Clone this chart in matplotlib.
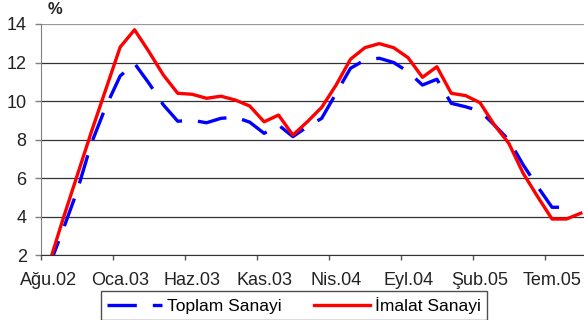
import numpy as np
import matplotlib
matplotlib.use("Agg")
import matplotlib.pyplot as plt

plt.rcParams['font.family'] = ['Liberation Sans', 'DejaVu Sans']

# Turkish month abbreviations, series starts in Aug 2002
month_names = ["Oca", "Şub", "Mar", "Nis", "May", "Haz",
               "Tem", "Ağu", "Eyl", "Eki", "Kas", "Ara"]
start_month, start_year = 8, 2002

# monthly % values
toplam = [1.3, 3.25, 5.3, 7.8, 9.7, 11.3, 11.95, 10.92, 9.8, 8.95, 9.0, 8.87,
          9.1, 9.16, 8.9, 8.32, 8.75, 8.15, 8.66, 9.1, 10.4, 11.7, 12.13, 12.22,
          12.0, 11.52, 10.83, 11.13, 9.88, 9.7, 9.48, 8.75, 7.97, 6.68, 5.55,
          4.48, 4.48]
imalat = [1.4, 3.8, 6.1, 8.4, 10.6, 12.8, 13.7, 12.56, 11.35, 10.4, 10.35,
          10.14, 10.25, 10.05, 9.74, 8.92, 9.27, 8.23, 8.92, 9.67, 10.83, 12.17,
          12.77, 12.98, 12.77, 12.25, 11.23, 11.78, 10.4, 10.28, 9.91, 8.75, 7.8,
          6.24, 5.03, 3.87, 3.87, 4.17]

labels = []
for k in range(len(imalat)):
    m = (start_month - 1 + k) % 12
    y = start_year + (start_month - 1 + k) // 12
    labels.append(f"{month_names[m]}.{y % 100:02d}")

fig = plt.figure(figsize=(5.84, 3.2), dpi=100)
ax = fig.add_axes([41 / 584, 0.2031, 547 / 584, 0.7219])

ax.plot(np.arange(len(toplam)), toplam, color="#0000ff", lw=2.4,
        dashes=(8.8, 4.8), dash_capstyle="butt", label="Toplam Sanayi")
ax.plot(np.arange(len(imalat)), imalat, color="#ff0000", lw=2.4,
        solid_joinstyle="round", label="İmalat Sanayi")

ax.set_xlim(-0.5, len(imalat) - 0.5)
ax.set_ylim(2, 14)
ax.set_yticks(np.arange(2, 15, 2))

# tick marks at category boundaries, labels on the categories
ax.set_xticks(np.arange(-0.5, len(imalat), 5))
ax.set_xticklabels([])
ax.set_xticks(np.arange(0, len(imalat), 5), minor=True)
ax.set_xticklabels(labels[::5], minor=True)
ax.tick_params(axis="x", which="major", direction="out", length=3.6,
               width=1, color="#555555")
ax.tick_params(axis="x", which="minor", length=0, pad=12.5, labelsize=13,
               labelcolor="#222222")
ax.tick_params(axis="y", direction="out", length=4.3, width=1,
               color="#808080", pad=6, labelsize=13, labelcolor="#222222")

ax.yaxis.grid(True, color="#333333", lw=0.9)
ax.get_ygridlines()[-1].set_color("#999999")
ax.set_axisbelow(True)
for s in ["top", "right"]:
    ax.spines[s].set_visible(False)
ax.spines["left"].set_color("#808080")
ax.spines["bottom"].set_color("#333333")

fig.text(55 / 584, 1 - 10 / 320, "%", ha="center", va="center",
         fontsize=12, fontweight="bold", color="#222222")

leg = fig.legend(loc="center", bbox_to_anchor=(0.503, 0.045), ncol=2,
                 fontsize=12.5, frameon=True, fancybox=False,
                 handlelength=3.2, handletextpad=0.3, columnspacing=1.85,
                 borderpad=0.35, labelspacing=0.2)
leg.get_frame().set_edgecolor("#222222")
leg.get_frame().set_linewidth(1.0)

plt.savefig("out.png", dpi=100)
